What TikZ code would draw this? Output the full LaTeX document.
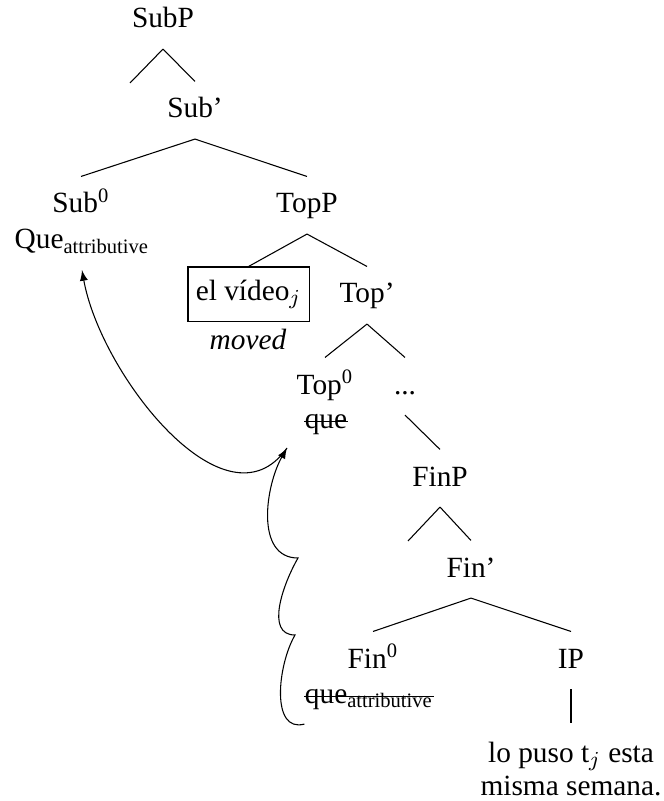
\documentclass[tikz,border=0pt]{standalone}
\usepackage{amsmath}
\usepackage{fontspec}
\setmainfont{Liberation Serif}

\begin{document}
\begin{tikzpicture}[x=0.375pt,y=0.375pt,
    font=\fontsize{11pt}{12.4pt}\selectfont,
    cat/.style={inner sep=0pt, outer ysep=6.2pt, text height=7.5pt, text depth=1.7pt, anchor=base},
    >=latex]
      \useasboundingbox (0,0) rectangle (663,-801);

      \node[cat] (subp) at (163,-28) {SubP};
      \node[cat] (subbar) at (195,-118) {Sub'};
      \node[cat] (sub0) at (81,-213) {Sub$^{\text{0}}$};
      \node[cat] (que1) at (82,-249) {Que$_{\text{attributive}}$};
      \node[cat] (topp) at (307,-213) {TopP};
      \node[draw, minimum width=45.4pt, minimum height=20.6pt, inner sep=2pt] (video) at (248.5,-294.5) {el vídeo$_j$};
      \node[cat] (moved) at (248,-350) {\textit{moved}};
      \node[cat] (topbar) at (367,-303) {Top'};
      \node[cat] (top0) at (325,-394) {Top$^{\text{0}}$};
      \node[cat] (que2) at (326,-428) {que};
      \node[cat] (dots) at (405,-394) {...};
      \node[cat] (finp) at (440,-486) {FinP};
      \node[cat] (finbar) at (471,-577) {Fin'};
      \node[cat] (fin0) at (373,-668) {Fin$^{\text{0}}$};
      \node[cat] (que3) at (369,-703) {que$_{\text{attributive}}$};
      \node[cat] (ip) at (571,-668) {IP};
      \node[align=center, inner sep=0pt, outer ysep=7pt, anchor=north] (vp) at (571,-723) {lo puso t$_j$ esta\\misma semana.};

      \coordinate (subspec) at (130,-83);
      \coordinate (finspec) at (408,-541);
      \coordinate (land) at (287,-448);
      \coordinate (hop1) at (298,-558);
      \coordinate (hop2) at (295,-635);

      % struck copies
      \draw ([yshift=2.4pt]que2.base west) -- ([yshift=2.4pt]que2.base east);
      \draw ([yshift=2.4pt]que3.base west) -- ([yshift=2.4pt]que3.base east);

      \draw (subp.south) -- (subspec);
      \draw (subp.south) -- (subbar.north);
      \draw (subbar.south) -- (sub0.north);
      \draw (subbar.south) -- (topp.north);
      \draw (topp.south) -- (video.north);
      \draw (topp.south) -- (topbar.north);
      \draw (topbar.south) -- (top0.north);
      \draw (topbar.south) -- (dots.north);
      \draw (dots.south) -- (finp.north);
      \draw (finp.south) -- (finspec);
      \draw (finp.south) -- (finbar.north);
      \draw (finbar.south) -- (fin0.north);
      \draw (finbar.south) -- (ip.north);
      \draw (ip.south) -- (vp.north);

      \draw[->] (que3.south west) to[out=195,in=240] (hop2)
        to[out=180,in=240] (hop1) to[out=180,in=240] (land);
      \draw[->] (land) to[out=235,in=280] (que1.south);

    \end{tikzpicture}
\end{document}
